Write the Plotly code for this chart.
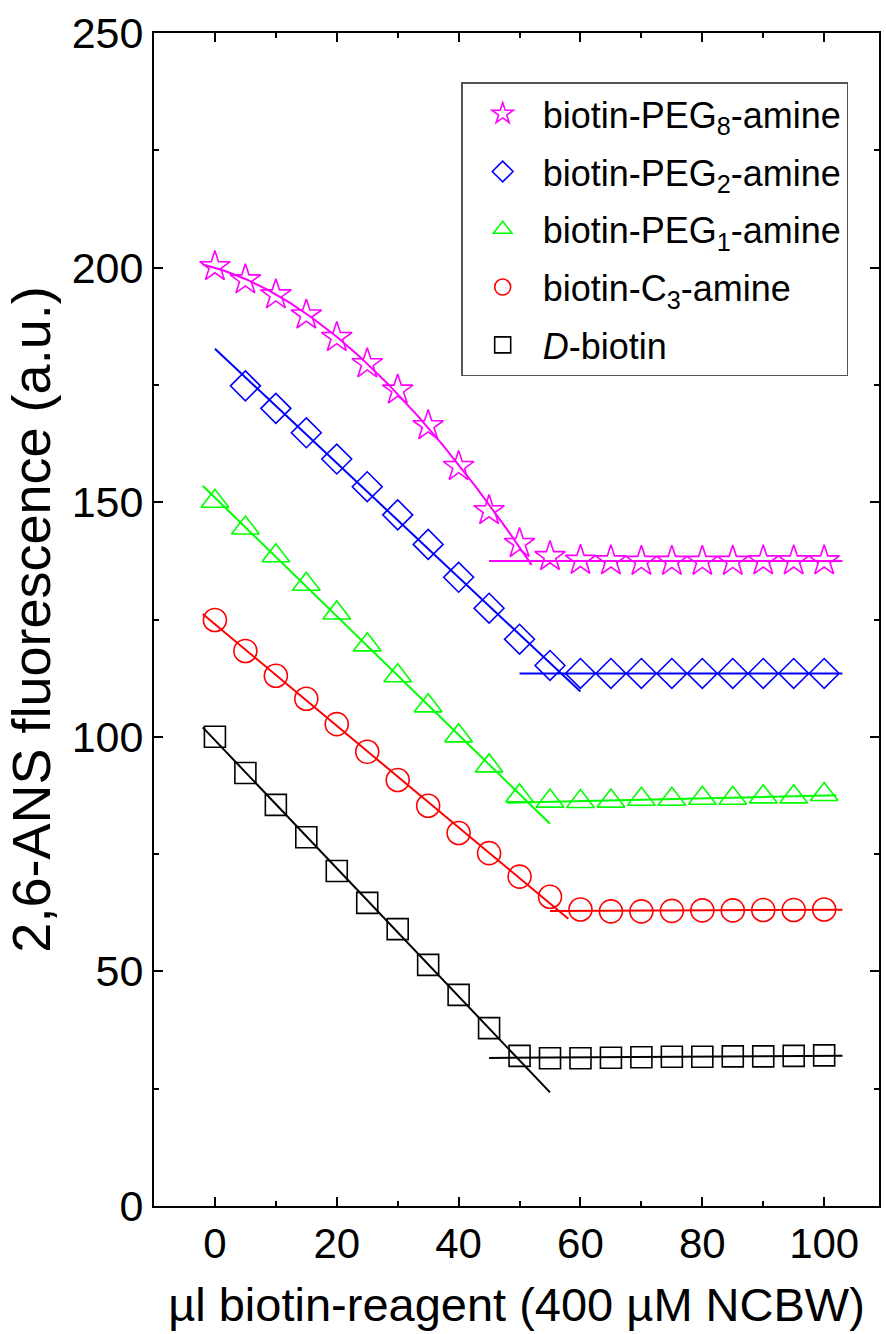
import numpy as np
import plotly.graph_objects as go

x_vals = list(range(0, 101, 5))

names = ["biotin-PEG<sub>8</sub>-amine", "biotin-PEG<sub>2</sub>-amine",
         "biotin-PEG<sub>1</sub>-amine", "biotin-C<sub>3</sub>-amine", "<i>D</i>-biotin"]
colors = ["#FF00FF", "#0000FF", "#00FF00", "#FF0000", "#000000"]
symbols = ["star-open", "diamond-open", "triangle-up-open", "circle-open", "square-open"]

peg8 = [200.2, 197.4, 194.2, 189.9, 185.1, 179.5, 173.9, 166.3, 157.6, 148.2, 141.2,
        138.4, 137.6, 137.5, 137.4, 137.4, 137.4, 137.4, 137.5, 137.5, 137.5]
peg2 = [None, 174.8, 170.0, 164.8, 159.2, 153.3, 147.3, 141.0, 134.0, 127.4, 120.8,
        115.2, 113.5, 113.5, 113.5, 113.5, 113.5, 113.5, 113.5, 113.5, 113.5]
peg1 = [150.2, 144.5, 138.6, 132.5, 126.4, 119.6, 113.0, 106.6, 100.2, 93.8, 87.4,
        86.3, 86.2, 86.3, 86.7, 86.7, 86.9, 86.9, 87.2, 87.2, 87.7]
c3 = [124.9, 118.3, 113.0, 108.1, 102.7, 96.8, 90.8, 85.3, 79.5, 75.2, 70.2,
      65.9, 63.2, 62.8, 62.8, 62.9, 63.0, 63.0, 63.1, 63.1, 63.2]
dbiotin = [100.0, 92.3, 85.5, 78.6, 71.4, 64.6, 59.0, 51.4, 45.0, 37.9, 32.0,
           31.5, 31.5, 31.6, 31.7, 31.8, 31.8, 31.9, 31.9, 32.0, 32.1]
series = [peg8, peg2, peg1, c3, dbiotin]

# fit settings: x-range of data used for decline / plateau fits and drawn spans
decline_fit_x = [(0, 50), (5, 55), (0, 45), (0, 55), (0, 45)]
decline_deg = [3, 1, 1, 1, 1]
decline_span = [(-2, 52), (0, 60), (-2, 55), (-2, 58), (-2, 55)]
plateau_fit_x = [(60, 100), (60, 100), (55, 100), (60, 100), (50, 100)]
plateau_span = [(45, 103), (50, 103), (48, 102), (55, 103), (45, 103)]
marker_sizes = [23, 23, 24, 23, 21]

fig = go.Figure()

for i, ys in enumerate(series):
    xs = np.array([x for x, y in zip(x_vals, ys) if y is not None], float)
    yv = np.array([y for y in ys if y is not None], float)
    # decline fit
    a, b = decline_fit_x[i]
    m = (xs >= a) & (xs <= b)
    p = np.polyfit(xs[m], yv[m], decline_deg[i])
    fx = np.linspace(decline_span[i][0], decline_span[i][1], 120)
    fig.add_trace(go.Scatter(x=fx, y=np.polyval(p, fx), mode="lines",
                             line=dict(color=colors[i], width=2),
                             showlegend=False, hoverinfo="skip"))
    # plateau fit
    a, b = plateau_fit_x[i]
    m = (xs >= a) & (xs <= b)
    p = np.polyfit(xs[m], yv[m], 1)
    fx = np.linspace(plateau_span[i][0], plateau_span[i][1], 2)
    fig.add_trace(go.Scatter(x=fx, y=np.polyval(p, fx), mode="lines",
                             line=dict(color=colors[i], width=2),
                             showlegend=False, hoverinfo="skip"))

for i, ys in enumerate(series):
    fig.add_trace(go.Scatter(
        x=x_vals, y=ys, mode="markers", name=names[i], legendgroup=str(i),
        marker=dict(symbol=symbols[i], size=marker_sizes[i], color=colors[i],
                    line=dict(color=colors[i], width=1.6))))

font = "Arial, Liberation Sans, sans-serif"
axis_common = dict(showline=True, linecolor="black", linewidth=2, mirror="allticks",
                   ticks="inside", ticklen=9, tickwidth=2, tickcolor="black",
                   showgrid=False, zeroline=False)

fig.update_layout(
    width=886, height=1334,
    margin=dict(l=154, r=5, t=33, b=128),
    paper_bgcolor="white", plot_bgcolor="white",
    font=dict(family=font, color="black"),
    xaxis=dict(range=[-10, 109], tickvals=[0, 20, 40, 60, 80, 100],
               minor=dict(tickvals=[10, 30, 50, 70, 90], ticks="inside", ticklen=5,
                          tickwidth=2, tickcolor="black"),
               tickfont=dict(family=font, size=42, color="black"),
               title=dict(text="µl biotin-reagent (400 µM NCBW)",
                          font=dict(family=font, size=47, color="black"), standoff=22),
               **axis_common),
    yaxis=dict(range=[0, 250], tickvals=[0, 50, 100, 150, 200, 250],
               minor=dict(tickvals=[25, 75, 125, 175, 225], ticks="inside", ticklen=5,
                          tickwidth=2, tickcolor="black"),
               tickfont=dict(family=font, size=43, color="black"),
               title=dict(text="2,6-ANS fluorescence (a.u.)",
                          font=dict(family=font, size=54, color="black"), standoff=4),
               **axis_common),
    legend=dict(x=0.4237, y=0.958, xanchor="left", yanchor="top",
                bgcolor="white", bordercolor="#555555", borderwidth=1.5,
                font=dict(family=font, size=36, color="black"),
                tracegroupgap=8, itemwidth=70),
    showlegend=True,
)

fig.write_html("out.html")
